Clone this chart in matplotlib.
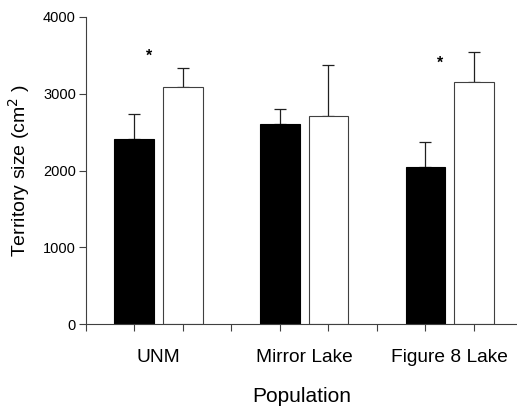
import matplotlib
matplotlib.use("Agg")
import matplotlib.pyplot as plt
import numpy as np

plt.rcParams['font.family'] = ['Liberation Sans', 'DejaVu Sans']

populations = ["UNM", "Mirror Lake", "Figure 8 Lake"]
black_means = [2406, 2609, 2042]
black_err = [325, 187, 329]
white_means = [3090, 2713, 3147]
white_err = [239, 663, 390]
sig = [True, False, True]
star_y = [3490, None, 3400]

fig = plt.figure(figsize=(5.17, 4.07), dpi=100)
ax = fig.add_axes([0.1658, 0.2032, 0.8342, 0.7557])

group_start = np.array([1, 4, 7])
bw = 0.815
ax.bar(group_start, black_means, width=bw, color='black', edgecolor='black', linewidth=0.8, zorder=2)
ax.bar(group_start + 1, white_means, width=bw, color='white', edgecolor='#404040', linewidth=0.8, zorder=2)
ax.errorbar(group_start, black_means, yerr=[np.zeros(3), black_err], fmt='none',
            ecolor='#202020', elinewidth=0.9, capsize=4, capthick=0.9, zorder=1)
ax.errorbar(group_start + 1, white_means, yerr=[np.zeros(3), white_err], fmt='none',
            ecolor='#202020', elinewidth=0.9, capsize=4, capthick=0.9, zorder=1)
for i, s in enumerate(sig):
    if s:
        ax.text(group_start[i] + 0.3, star_y[i], '*', ha='center', va='center',
                fontsize=11.5, fontweight='bold')

ax.set_xlim(0, 8.89)
ax.set_ylim(0, 4000)
ax.set_yticks([0, 1000, 2000, 3000, 4000])
ax.set_xticks(np.arange(0, 9))
ax.set_xticklabels([])
ax.set_xticks(group_start + 0.5, minor=True)
ax.set_xticklabels(populations, minor=True, fontsize=13.8)
ax.tick_params(axis='x', which='minor', length=0, pad=18)
ax.tick_params(axis='x', which='major', length=5, width=0.8, color='#404040')
ax.tick_params(axis='y', length=5, width=0.8, color='#404040', labelsize=10.5, pad=2)
for s in ['top', 'right']:
    ax.spines[s].set_visible(False)
for s in ['left', 'bottom']:
    ax.spines[s].set_linewidth(0.8)
    ax.spines[s].set_color('#404040')
ax.set_ylabel('Territory size (cm$^2$ )', fontsize=14, labelpad=8)
ax.set_xlabel('Population', fontsize=15, labelpad=15)

fig.savefig('out.png', dpi=100)
